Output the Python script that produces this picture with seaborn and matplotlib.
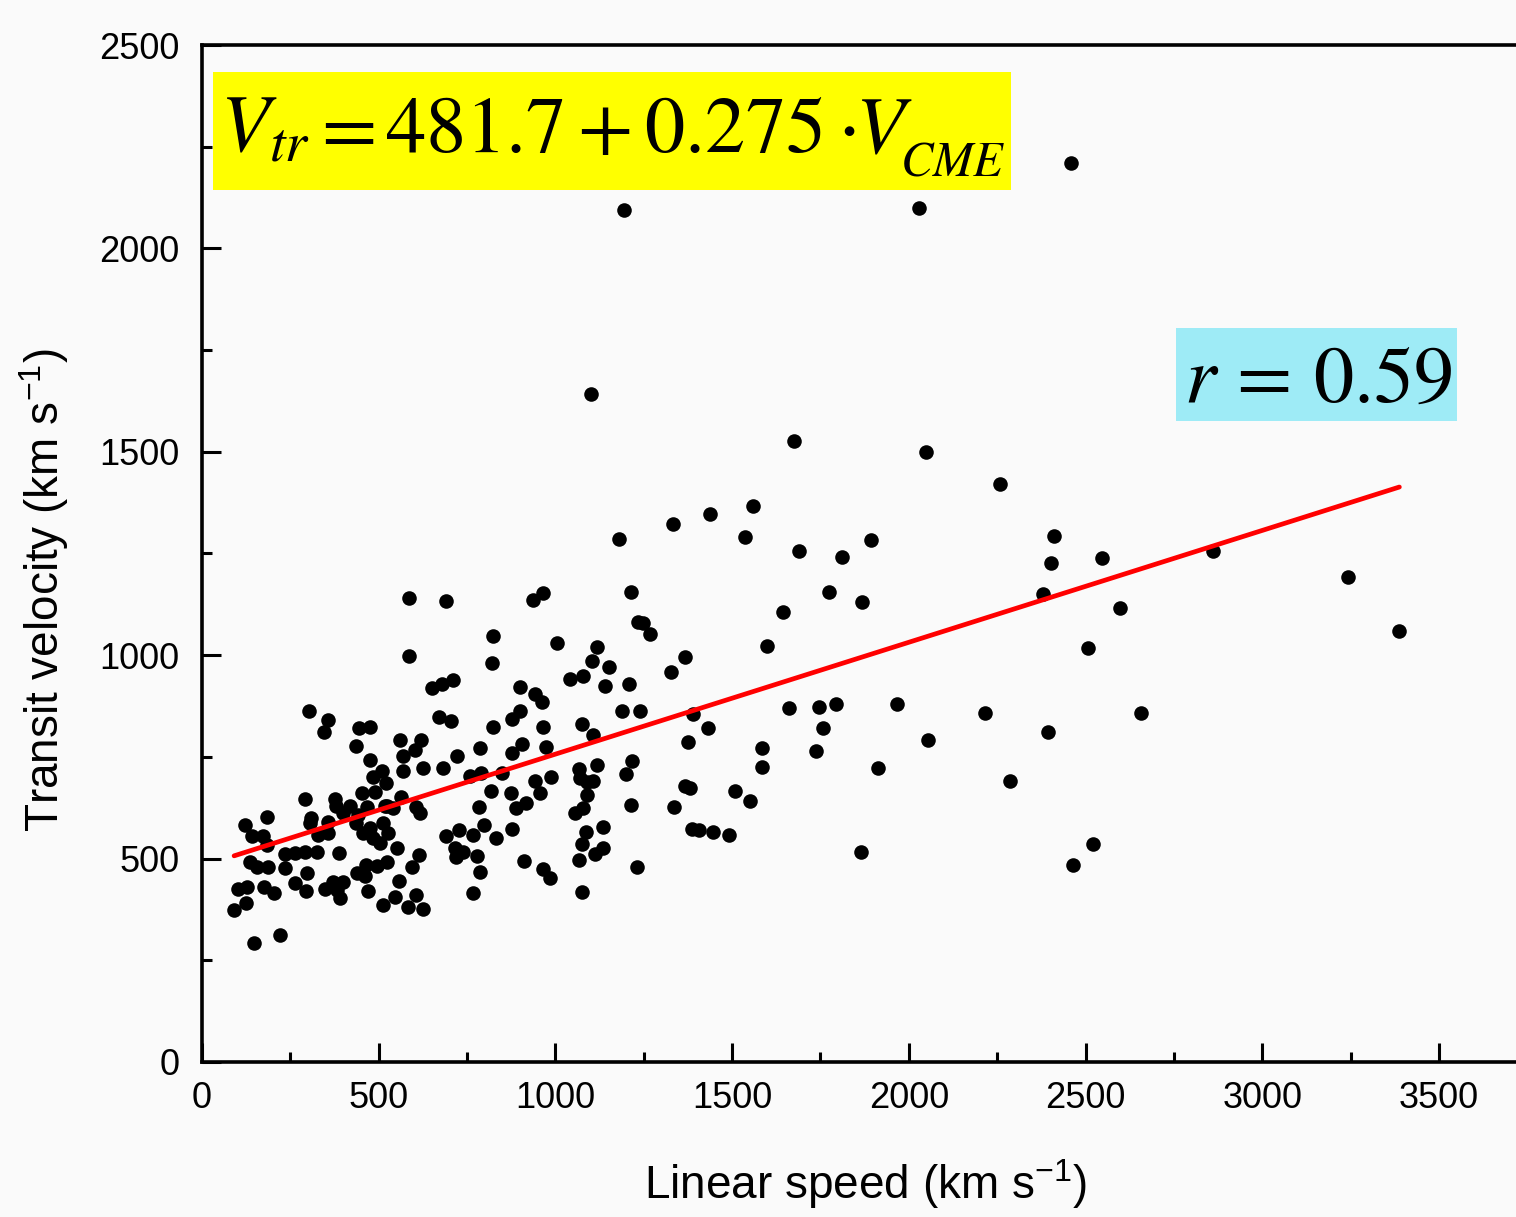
import numpy as np
import pandas as pd
import seaborn as sns
import matplotlib.pyplot as plt
from matplotlib.ticker import MultipleLocator
from matplotlib.patches import Rectangle

# CME linear speed vs transit velocity (km/s)
linear_speed = [
    304, 357, 346, 445, 475, 436, 560, 619, 603, 568, 475, 568, 626, 509, 485, 520,
    452, 490, 291, 376, 379, 419, 400, 466, 442, 523, 562, 518, 540, 606, 617, 310,
    306, 357, 183, 122, 143, 173, 183, 329, 357, 436, 456, 475, 485, 504, 527, 513,
    136, 155, 188, 235, 235, 263, 291, 325, 389, 551, 615, 593, 525, 494, 464, 438,
    461, 296, 103, 127, 125, 91, 175, 204, 263, 294, 348, 372, 398, 381, 392, 469,
    558, 546, 606, 511, 584, 625, 148, 221, 586, 586,
    690, 937, 964, 1214, 1235, 1249, 1268, 824, 1006, 1119, 820, 1103, 1152, 1041, 1077, 1140,
    1209, 650, 678, 709, 900, 942, 961, 1188, 1239, 671, 704, 900, 876, 824, 964, 1076,
    1107, 787, 721, 905, 876, 973, 1216, 683, 758, 791, 848, 1068, 1070, 1107, 1089, 1117,
    1199, 989, 942, 956, 818, 874, 785, 888, 916, 1089, 1079, 1055, 1214, 798, 690, 728,
    768, 832, 878, 716, 739, 719, 777, 787, 768, 912, 964, 985, 1087, 1074, 1136, 1112,
    1136, 1068, 1074, 1230,
    1810, 1775, 1867, 1645, 1600, 1367, 1327, 1390, 1433, 1374, 1661, 1747, 1794, 1967, 1758, 1737,
    1585, 1585, 1912, 1367, 1381, 1336, 1508, 1551, 1386, 1407, 1445, 1492, 1864,
    1675, 1180, 1334, 1437, 1558, 1537, 1689, 1893, 1101,
    2049, 2258, 2412, 2402, 2547, 2379, 2598, 2506, 2861, 2217, 2053, 2657, 2394, 2286, 2520, 2465,
    3243, 3388, 2459, 1193, 2030,
]
transit_velocity = [
    863, 841, 810, 822, 824, 777, 791, 792, 767, 751, 742, 716, 722, 716, 700, 687,
    661, 663, 647, 647, 629, 629, 611, 628, 607, 629, 651, 629, 624, 628, 611, 599,
    587, 591, 603, 583, 556, 556, 533, 558, 562, 587, 562, 575, 550, 538, 564, 588,
    492, 480, 479, 511, 476, 513, 517, 515, 513, 525, 509, 480, 492, 482, 484, 464,
    456, 465, 425, 430, 392, 374, 430, 415, 439, 421, 425, 443, 443, 423, 402, 421,
    446, 406, 411, 386, 380, 375, 293, 312, 1141, 999,
    1133, 1136, 1154, 1156, 1082, 1078, 1052, 1048, 1031, 1021, 980, 986, 970, 942, 950, 925,
    929, 919, 929, 939, 923, 904, 886, 863, 864, 847, 837, 863, 842, 824, 824, 831,
    804, 773, 753, 781, 759, 774, 741, 722, 704, 710, 711, 720, 697, 691, 689, 730,
    708, 700, 691, 661, 665, 661, 626, 624, 636, 656, 624, 611, 632, 583, 556, 570,
    558, 551, 573, 526, 516, 504, 507, 466, 416, 495, 474, 452, 565, 536, 577, 511,
    525, 497, 419, 479,
    1241, 1155, 1130, 1107, 1023, 996, 959, 856, 820, 787, 870, 873, 879, 880, 820, 765,
    773, 726, 722, 679, 673, 628, 666, 642, 573, 570, 565, 558, 517,
    1527, 1285, 1322, 1346, 1367, 1290, 1257, 1283, 1641,
    1500, 1421, 1294, 1226, 1240, 1150, 1115, 1017, 1256, 857, 792, 857, 811, 691, 535, 484,
    1192, 1060, 2209, 2094, 2100,
]

# linear fit given in the figure
fit_intercept = 481.7
fit_slope = 0.275
r_value = 0.59

df = pd.DataFrame({'speed': linear_speed, 'vtr': transit_velocity})

sns.set_style('ticks')
plt.rcParams['font.family'] = ['Liberation Sans', 'DejaVu Sans']
plt.rcParams['mathtext.fontset'] = 'custom'
plt.rcParams['mathtext.rm'] = 'Liberation Sans'
plt.rcParams['mathtext.it'] = 'Liberation Sans:italic'
for key in ['text.color', 'axes.labelcolor', 'xtick.color', 'ytick.color', 'axes.edgecolor']:
    plt.rcParams[key] = 'black'

bg = '#fafafa'
fig = plt.figure(figsize=(15.16, 12.17), dpi=100, facecolor=bg)
ax = fig.add_axes([0.1332, 0.1274, 0.8668, 0.8356], facecolor=bg)

sns.scatterplot(data=df, x='speed', y='vtr', color='black', s=110, linewidth=0, ax=ax, zorder=3)

line_x = np.array([df['speed'].min(), df['speed'].max()])
line_df = pd.DataFrame({'speed': line_x, 'vtr': fit_intercept + fit_slope * line_x})
sns.lineplot(data=line_df, x='speed', y='vtr', color='#ff0000', linewidth=3.4, ax=ax, zorder=4)

ax.set_xlim(0, 3718)
ax.set_ylim(0, 2500)
ax.xaxis.set_major_locator(MultipleLocator(500))
ax.xaxis.set_minor_locator(MultipleLocator(250))
ax.yaxis.set_major_locator(MultipleLocator(500))
ax.yaxis.set_minor_locator(MultipleLocator(250))
ax.tick_params(which='both', direction='in', width=2.2, colors='black', labelsize=26)
ax.tick_params(which='major', length=14)
ax.tick_params(which='minor', length=7.5)
ax.tick_params(axis='x', pad=14)
ax.tick_params(axis='y', pad=16)
ax.spines['right'].set_visible(False)
for side in ['left', 'bottom', 'top']:
    ax.spines[side].set_linewidth(2.6)

ax.set_xlabel(r'Linear speed (km s$^{-1}$)', fontsize=33)
ax.set_ylabel(r'Transit velocity (km s$^{-1}$)', fontsize=33)
ax.xaxis.set_label_coords(0.505, -0.094)
ax.yaxis.set_label_coords(-0.1, 0.464)

# equation box
fig.add_artist(Rectangle((0.1405, 0.8439), 0.5264, 0.0969, transform=fig.transFigure,
                         facecolor='#ffff00', edgecolor='none', zorder=5))
eq_kw = dict(math_fontfamily='stix', ha='left', va='baseline', zorder=6, color='black')
fig.text(0.1451, 0.8751, r'$V_{tr}$', fontsize=58, **eq_kw)
fig.text(0.2045, 0.8751, r'$=$', fontsize=58, **eq_kw)
fig.text(0.2540, 0.8751, r'$%.1f+%.3f\cdot$' % (fit_intercept, fit_slope), fontsize=58, **eq_kw)
fig.text(0.5640, 0.8751, r'$V$', fontsize=58, **eq_kw)
fig.text(0.5937, 0.8555, r'$CME$', fontsize=35, **eq_kw)

# correlation box
fig.add_artist(Rectangle((0.7757, 0.6541), 0.1854, 0.0764, transform=fig.transFigure,
                         facecolor='#9eebf6', edgecolor='none', zorder=5))
fig.text(0.8698, 0.6697, r'$r\,=\,%.2f$' % r_value, fontsize=58,
         math_fontfamily='stix', ha='center', va='baseline', zorder=6, color='black')

plt.savefig('out.png', dpi=100, facecolor=bg)
